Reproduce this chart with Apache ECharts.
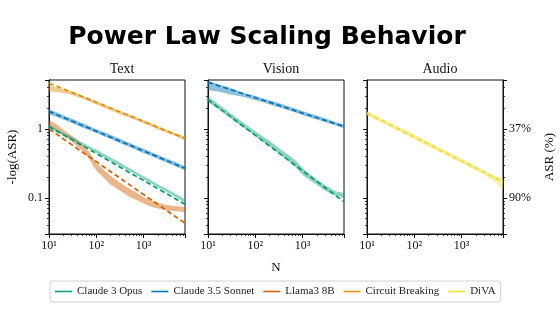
<!DOCTYPE html>
<html><head><meta charset="utf-8">
<script src="https://cdn.jsdelivr.net/npm/echarts@6/dist/echarts.min.js"></script>
<style>html,body{margin:0;padding:0;background:#fff}#c{width:560px;height:327px}</style>
</head><body><div id="c"></div>
<script>
// ---------- data ----------
const sampleN = [10,15,20,30,50,70,100,150,200,300,500,700,1000,1500,2000,3000,5000,7500];
const fitN = [10, 7500];
const panelTitles = ['Text', 'Vision', 'Audio'];
const modelNames = ['Claude 3 Opus', 'Claude 3.5 Sonnet', 'Llama3 8B', 'Circuit Breaking', 'DiVA'];
const modelColors = ['#029e73', '#0173b2', '#d55e00', '#de8f05', '#ece133'];
const xTickLabels = {10: '10¹', 100: '10²', 1000: '10³'};
const yTickLabels = {1: '1', 0.1: '0.1'};
const asrTickLabels = {1: '37%', 0.1: '90%'};

// Text panel
const textOpusLo = [1.0,0.88,0.80,0.70,0.58,0.51,0.45,0.385,0.345,0.295,0.245,0.215,0.186,0.16,0.143,0.123,0.101,0.085];
const textOpusHi = [1.15,0.98,0.88,0.77,0.64,0.565,0.50,0.43,0.385,0.33,0.272,0.238,0.206,0.177,0.158,0.136,0.113,0.095];
const textOpusFit = [1.08, 0.081];
const textSonnetLo = [1.62,1.47,1.37,1.22,1.05,0.96,0.87,0.77,0.71,0.63,0.545,0.495,0.445,0.40,0.365,0.325,0.282,0.25];
const textSonnetHi = [1.92,1.72,1.58,1.41,1.22,1.10,0.99,0.89,0.82,0.73,0.63,0.57,0.515,0.46,0.42,0.375,0.325,0.288];
const textSonnetFit = [1.79, 0.268];
const textLlamaLo = [1.08,0.95,0.82,0.66,0.48,0.37,0.25,0.19,0.155,0.13,0.104,0.093,0.083,0.074,0.070,0.066,0.064,0.062];
const textLlamaHi = [1.35,1.15,0.97,0.80,0.60,0.47,0.32,0.25,0.21,0.17,0.137,0.12,0.103,0.092,0.086,0.079,0.076,0.073];
const textLlamaFit = [1.0, 0.043];
const textCBLo = [3.5,3.4,3.3,3.1,2.75,2.5,2.25,2.0,1.85,1.65,1.45,1.33,1.2,1.07,0.98,0.88,0.77,0.68];
const textCBHi = [4.3,3.95,3.75,3.5,3.05,2.8,2.5,2.25,2.05,1.85,1.62,1.48,1.34,1.2,1.1,0.98,0.86,0.77];
const textCBFit = [4.6, 0.73];
// Vision panel
const visionSonnetLo = [3.65,3.5,3.35,3.15,2.95,2.8,2.6,2.4,2.25,2.08,1.86,1.72,1.58,1.45,1.37,1.25,1.12,1.02];
const visionSonnetHi = [5.0,4.55,4.25,3.9,3.45,3.2,2.98,2.75,2.6,2.38,2.12,1.97,1.82,1.66,1.56,1.42,1.26,1.16];
const visionSonnetFit = [4.72, 1.08];
const visionOpusLo = [2.45,2.0,1.75,1.43,1.1,0.93,0.78,0.64,0.56,0.45,0.34,0.28,0.215,0.175,0.155,0.127,0.107,0.100];
const visionOpusHi = [2.95,2.4,2.08,1.68,1.3,1.1,0.92,0.76,0.67,0.54,0.42,0.35,0.27,0.215,0.185,0.152,0.125,0.118];
const visionOpusFit = [2.64, 0.0875];
// Audio panel
const audioDivaLo = [1.55,1.36,1.23,1.07,0.9,0.81,0.7,0.61,0.55,0.48,0.405,0.36,0.318,0.275,0.25,0.215,0.172,0.13];
const audioDivaHi = [1.8,1.58,1.43,1.25,1.05,0.95,0.84,0.71,0.645,0.565,0.47,0.42,0.37,0.322,0.29,0.252,0.21,0.19];
const audioDivaFit = [1.69, 0.171];

// ---------- chart ----------
const SERIF = '"Liberation Serif", "DejaVu Serif", serif';
const gridLefts = [49, 208, 367];
const gridW = 136, gridTop = 80, gridH = 154;
const yMin = 0.03, yMax = 5.1;
const isPow = v => Math.abs(Math.log10(v) - Math.round(Math.log10(v))) < 1e-6;
const keyOf = v => String(Math.pow(10, Math.round(Math.log10(v))));

const chart = echarts.init(document.getElementById('c'), null, {renderer: 'canvas'});

const grids = gridLefts.map(l => ({left: l, top: gridTop, width: gridW, height: gridH,
  show: true, borderColor: '#111', borderWidth: 1, backgroundColor: 'transparent'}));

const tickCommon = {
  axisLine: {show: true, lineStyle: {color: '#111', width: 1}},
  axisTick: {show: true, inside: false, length: 4, lineStyle: {color: '#111', width: 1}},
  minorTick: {show: true, splitNumber: 9, length: 2, lineStyle: {color: '#111', width: 0.8}},
  splitLine: {show: false}, minorSplitLine: {show: false}
};

const xAxes = [0,1,2].map(i => Object.assign({
  type: 'log', logBase: 10, gridIndex: i, min: 10, max: 7500,
  name: i === 1 ? 'N' : '', nameLocation: 'middle', nameGap: 27,
  nameTextStyle: {fontFamily: SERIF, fontSize: 13, color: '#111'},
  axisLabel: {show: true, showMinLabel: true, showMaxLabel: false, margin: 6,
    fontFamily: SERIF, fontSize: 12, color: '#111',
    formatter: v => isPow(v) ? (xTickLabels[keyOf(v)] || '') : ''}
}, JSON.parse(JSON.stringify(tickCommon))));

const yAxes = [0,1,2].map(i => Object.assign({
  type: 'log', logBase: 10, gridIndex: i, min: yMin, max: yMax, position: 'left',
  name: i === 0 ? '-log(ASR)' : '', nameLocation: 'middle', nameGap: 30, nameRotate: 90,
  nameTextStyle: {fontFamily: SERIF, fontSize: 13, color: '#111'},
  axisLabel: {show: i === 0, margin: 6, fontFamily: SERIF, fontSize: 12, color: '#111',
    showMinLabel: false, showMaxLabel: false,
    formatter: v => isPow(v) ? (yTickLabels[keyOf(v)] || '') : ''}
}, JSON.parse(JSON.stringify(tickCommon))));
yAxes.push(Object.assign({
  type: 'log', logBase: 10, gridIndex: 2, min: yMin, max: yMax, position: 'right',
  name: 'ASR (%)', nameLocation: 'middle', nameGap: 40, nameRotate: 90,
  nameTextStyle: {fontFamily: SERIF, fontSize: 13, color: '#111'},
  axisLabel: {show: true, margin: 6, fontFamily: SERIF, fontSize: 12, color: '#111',
    showMinLabel: false, showMaxLabel: false,
    formatter: v => isPow(v) ? (asrTickLabels[keyOf(v)] || '') : ''}
}, JSON.parse(JSON.stringify(tickCommon))));

function band(name, color, gi, lo, hi) {
  return {
    type: 'custom', name: name, xAxisIndex: gi, yAxisIndex: gi, z: 2, silent: true,
    data: [[sampleN[0], lo[0]]],
    renderItem: function (params, api) {
      const pts = [];
      for (let i = 0; i < sampleN.length; i++) pts.push(api.coord([sampleN[i], hi[i]]));
      for (let i = sampleN.length - 1; i >= 0; i--) pts.push(api.coord([sampleN[i], lo[i]]));
      const cs = params.coordSys;
      return {type: 'polygon',
        shape: {points: echarts.graphic.clipPointsByRect(pts, {x: cs.x, y: cs.y, width: cs.width, height: cs.height})},
        style: {fill: color, opacity: 0.45}};
    }
  };
}
function fit(name, color, gi, vals) {
  return {
    type: 'line', name: name, xAxisIndex: gi, yAxisIndex: gi, z: 3, silent: true,
    symbol: 'none', animation: false,
    data: fitN.map((n, i) => [n, vals[i]]),
    lineStyle: {color: color, width: 1.7, type: [5, 3]}, itemStyle: {color: color}
  };
}
const C = modelColors;
const series = [
  band(modelNames[3], C[3], 0, textCBLo, textCBHi),
  band(modelNames[1], C[1], 0, textSonnetLo, textSonnetHi),
  band(modelNames[2], C[2], 0, textLlamaLo, textLlamaHi),
  band(modelNames[0], C[0], 0, textOpusLo, textOpusHi),
  fit(modelNames[3], C[3], 0, textCBFit),
  fit(modelNames[1], C[1], 0, textSonnetFit),
  fit(modelNames[2], C[2], 0, textLlamaFit),
  fit(modelNames[0], C[0], 0, textOpusFit),
  band(modelNames[1], C[1], 1, visionSonnetLo, visionSonnetHi),
  band(modelNames[0], C[0], 1, visionOpusLo, visionOpusHi),
  fit(modelNames[1], C[1], 1, visionSonnetFit),
  fit(modelNames[0], C[0], 1, visionOpusFit),
  band(modelNames[4], C[4], 2, audioDivaLo, audioDivaHi),
  fit(modelNames[4], C[4], 2, audioDivaFit)
];

const titles = [{
  text: 'Power Law Scaling Behavior', left: 262, top: 20, textAlign: 'center',
  textStyle: {fontFamily: '"DejaVu Sans", sans-serif', fontWeight: 'bold', fontSize: 25, color: '#000'}
}].concat(panelTitles.map((t, i) => ({
  text: t, left: gridLefts[i] + gridW / 2, top: 57, textAlign: 'center',
  textStyle: {fontFamily: SERIF, fontWeight: 'normal', fontSize: 14, color: '#111'}
})));

chart.setOption({
  animation: false,
  backgroundColor: '#fff',
  title: titles,
  grid: grids,
  xAxis: xAxes,
  yAxis: yAxes,
  legend: {
    left: 50, top: 281, width: 500, orient: 'horizontal',
    selectedMode: false, icon: 'rect', itemWidth: 17, itemHeight: 1.6, itemGap: 9,
    padding: [5, 5], borderColor: '#d0d0d0', borderWidth: 1, borderRadius: 3,
    textStyle: {fontFamily: SERIF, fontSize: 11, color: '#222'},
    data: modelNames.map((n, i) => ({name: n, itemStyle: {color: C[i]}}))
  },
  series: series
});
</script></body></html>
